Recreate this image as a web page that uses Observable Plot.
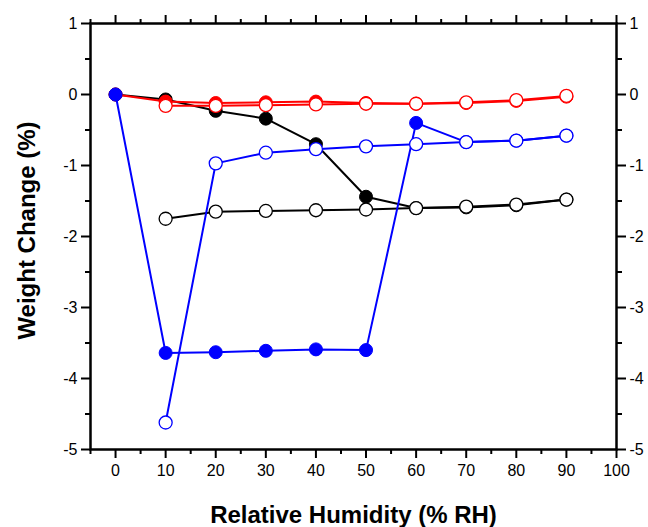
<!DOCTYPE html>
<html>
<head>
<meta charset="utf-8">
<script src="https://cdn.jsdelivr.net/npm/d3@7"></script>
<script src="https://cdn.jsdelivr.net/npm/@observablehq/plot@0.6"></script>
<style>
  html, body { margin: 0; padding: 0; background: #fff; }
  #chart svg { display: block; }
</style>
</head>
<body>
<div id="chart"></div>
<script>
// Relative humidity steps (% RH)
const rhAll = [0, 10, 20, 30, 40, 50, 60, 70, 80, 90];
const rhOpen = [10, 20, 30, 40, 50, 60, 70, 80, 90];

// Weight change (%) per series
const blackFilled = [0, -0.07, -0.23, -0.34, -0.70, -1.44, -1.60, -1.59, -1.56, -1.48];
const blackOpen   = [-1.75, -1.65, -1.64, -1.63, -1.62, -1.60, -1.58, -1.55, -1.48];
const redFilled   = [0, -0.10, -0.12, -0.11, -0.10, -0.12, -0.13, -0.12, -0.09, -0.03];
const redOpen     = [-0.16, -0.16, -0.15, -0.14, -0.13, -0.13, -0.11, -0.08, -0.02];
const blueFilled  = [0, -3.64, -3.63, -3.61, -3.59, -3.60, -0.40, -0.67, -0.65, -0.58];
const blueOpen    = [-4.62, -0.97, -0.82, -0.77, -0.73, -0.70, -0.67, -0.65, -0.58];

// Axis ticks
const xMajor = [0, 10, 20, 30, 40, 50, 60, 70, 80, 90, 100];
const xMinor = [-5, 5, 15, 25, 35, 45, 55, 65, 75, 85, 95];
const yMajor = [-5, -4, -3, -2, -1, 0, 1];
const yMinor = [-4.5, -3.5, -2.5, -1.5, -0.5, 0.5];

const xTitle = "Relative Humidity (% RH)";
const yTitle = "Weight Change (%)";

const rows = (xs, ys) => xs.map((x, i) => ({x, y: ys[i]}));

const series = [
  {color: "#000000", filled: rows(rhAll, blackFilled), open: rows(rhOpen, blackOpen)},
  {color: "#ff0000", filled: rows(rhAll, redFilled),   open: rows(rhOpen, redOpen)},
  {color: "#0000ff", filled: rows(rhAll, blueFilled),  open: rows(rhOpen, blueOpen)}
];

const fmt = d => (d < 0 ? "-" + Math.abs(d) : String(d));
const blank = () => "";

const marks = [];
for (const s of series) {
  marks.push(
    Plot.line(s.filled, {x: "x", y: "y", stroke: s.color, strokeWidth: 2}),
    Plot.line(s.open, {x: "x", y: "y", stroke: s.color, strokeWidth: 2}),
    Plot.dot(s.filled, {x: "x", y: "y", r: 6.5, fill: s.color, stroke: s.color, strokeWidth: 1}),
    Plot.dot(s.open, {x: "x", y: "y", r: 6.5, fill: "white", stroke: s.color, strokeWidth: 1.3})
  );
}

const axisCommon = {fontSize: 16, strokeWidth: 2, label: null};

const chart = Plot.plot({
  width: 648,
  height: 527,
  marginLeft: 90,
  marginRight: 32,
  marginTop: 23,
  marginBottom: 78,
  style: {fontFamily: "'Liberation Sans', Arial, sans-serif", fontSize: "16px", color: "black", background: "white"},
  x: {domain: [-5, 100]},
  y: {domain: [-5, 1]},
  marks: [
    // bottom axis
    Plot.axisX({...axisCommon, anchor: "bottom", ticks: xMajor, tickSize: 9, tickPadding: 6, tickFormat: d3.format("d")}),
    Plot.axisX({...axisCommon, anchor: "bottom", ticks: xMinor, tickSize: 5, tickFormat: blank}),
    // top axis
    Plot.axisX({...axisCommon, anchor: "top", ticks: xMajor, tickSize: 9, tickFormat: blank}),
    Plot.axisX({...axisCommon, anchor: "top", ticks: xMinor, tickSize: 5, tickFormat: blank}),
    // left axis
    Plot.axisY({...axisCommon, anchor: "left", ticks: yMajor, tickSize: 9, tickPadding: 4, tickFormat: fmt}),
    Plot.axisY({...axisCommon, anchor: "left", ticks: yMinor, tickSize: 5, tickFormat: blank}),
    // right axis
    Plot.axisY({...axisCommon, anchor: "right", ticks: yMajor, tickSize: 9, tickPadding: 4, tickFormat: fmt}),
    Plot.axisY({...axisCommon, anchor: "right", ticks: yMinor, tickSize: 5, tickFormat: blank}),
    ...marks,
    Plot.frame({stroke: "black", strokeWidth: 2.5}),
    Plot.text([xTitle], {frameAnchor: "bottom", dy: 66, fontSize: 24, fontWeight: "bold", textAnchor: "middle", lineAnchor: "middle", text: d => d}),
    Plot.text([yTitle], {frameAnchor: "left", dx: -63, dy: -6, rotate: -90, fontSize: 24, fontWeight: "bold", textAnchor: "middle", lineAnchor: "middle", text: d => d})
  ]
});

document.getElementById("chart").appendChild(chart);
</script>
</body>
</html>
